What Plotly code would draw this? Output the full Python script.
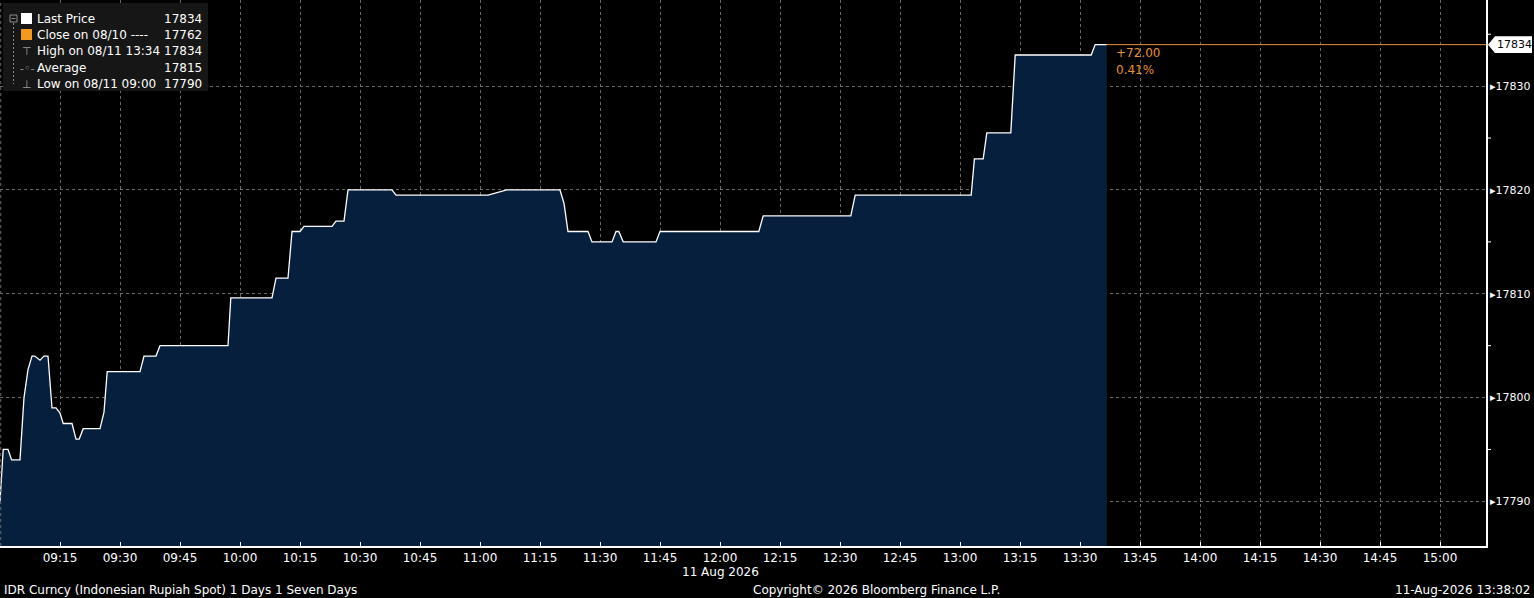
import plotly.graph_objects as go

day = "2026-08-11 "

times = [
    "09:00:00", "09:00:48", "09:02:00", "09:02:54", "09:05:00", "09:06:00",
    "09:07:00", "09:08:00", "09:08:42", "09:10:00", "09:11:00", "09:12:00",
    "09:13:00", "09:14:00", "09:15:00", "09:15:48", "09:18:00", "09:19:00",
    "09:19:48", "09:20:48", "09:25:00", "09:26:00", "09:26:48", "09:35:00",
    "09:36:00", "09:39:00", "09:40:00", "09:57:00", "09:57:42", "10:08:00",
    "10:09:00", "10:12:00", "10:13:00", "10:15:00", "10:16:00", "10:23:00",
    "10:24:00", "10:26:00", "10:27:00", "10:38:00", "10:39:00", "11:02:00",
    "11:06:42", "11:20:00", "11:21:00", "11:22:00", "11:27:00", "11:28:00",
    "11:33:00", "11:34:00", "11:34:42", "11:35:48", "11:44:00", "11:45:00",
    "12:09:42", "12:10:48", "12:32:42", "12:33:48", "13:02:48", "13:03:36",
    "13:05:48", "13:06:42", "13:12:42", "13:13:48", "13:32:48", "13:33:48",
    "13:36:42",
]
prices = [
    17790, 17795, 17795, 17794, 17794, 17800,
    17802.7, 17804, 17804, 17803.6, 17804, 17804,
    17799, 17799, 17798.5, 17797.5, 17797.5, 17796,
    17796, 17797, 17797, 17798.6, 17802.5, 17802.5,
    17804, 17804, 17805, 17805, 17809.6, 17809.6,
    17811.5, 17811.5, 17816, 17816, 17816.5, 17816.5,
    17817, 17817, 17820, 17820, 17819.5, 17819.5,
    17820, 17820, 17818.7, 17816, 17816, 17815,
    17815, 17816, 17816, 17815, 17815, 17816,
    17816, 17817.5, 17817.5, 17819.5, 17819.5, 17823,
    17823, 17825.5, 17825.5, 17833, 17833, 17834,
    17834,
]

x_ticks = ["09:15", "09:30", "09:45", "10:00", "10:15", "10:30", "10:45",
           "11:00", "11:15", "11:30", "11:45", "12:00", "12:15", "12:30",
           "12:45", "13:00", "13:15", "13:30", "13:45", "14:00", "14:15",
           "14:30", "14:45", "15:00"]
y_ticks = [17790, 17800, 17810, 17820, 17830]
y_minor = [17795, 17805, 17815, 17825, 17835]

last_price = 17834
prev_close = 17762
legend_rows = [
    ("Last Price", "17834"),
    ("Close on 08/10 ----", "17762"),
    ("High on 08/11 13:34", "17834"),
    ("Average", "17815"),
    ("Low on 08/11 09:00", "17790"),
]

W, H = 1534, 598
ML, MR, MT, MB = 0, 48, 0, 52
PW, PH = W - ML - MR, H - MT - MB
FONT = "DejaVu Sans"
FS = 12
ORANGE = "#e8912d"


def px(x):
    return x / PW


def py(y):
    return 1 - y / PH


def label(x, y, text, anchor="center", color="#ffffff", size=FS):
    return dict(xref="paper", yref="paper", x=px(x), y=py(y), text=text,
                showarrow=False, xanchor=anchor, yanchor="middle",
                font=dict(color=color, size=size, family=FONT))


xs = [day + t for t in times]
x_end = day + "15:11:30"

fig = go.Figure()
fig.add_trace(go.Scatter(
    x=xs, y=prices, mode="lines", fill="tozeroy",
    line=dict(color="#ffffff", width=1.3),
    fillcolor="#061f3d", hoverinfo="x+y", showlegend=False,
))

shapes = []
annotations = []

# orange last-price line
shapes.append(dict(type="line", xref="x", yref="y", x0=xs[-1], x1=x_end,
                   y0=last_price, y1=last_price,
                   line=dict(color=ORANGE, width=1)))
# left edge dashed grid at 09:00
shapes.append(dict(type="line", xref="paper", yref="paper", x0=0.0005, x1=0.0005,
                   y0=0, y1=1, line=dict(color="#6a6a6a", width=1, dash="3px,3px")))
# minor ticks on right axis
for v in y_minor:
    shapes.append(dict(type="line", xref="paper", yref="y", x0=1, x1=1 + px(5),
                       y0=v, y1=v, line=dict(color="#ffffff", width=1)))

# last price tag
shapes.append(dict(type="path", xref="paper", yref="y",
                   path=f"M {1 + px(2)} {last_price} L {1 + px(9)} {last_price + 0.8} "
                        f"L {1 + px(46)} {last_price + 0.8} L {1 + px(46)} {last_price - 0.8} "
                        f"L {1 + px(9)} {last_price - 0.8} Z",
                   fillcolor="#ffffff", line=dict(width=0)))
annotations.append(dict(xref="paper", yref="y", x=1 + px(9), y=last_price,
                        text=str(last_price), showarrow=False, xanchor="left",
                        yanchor="middle",
                        font=dict(color="#000000", size=11, family=FONT)))

# change annotations
annotations.append(dict(xref="x", yref="y", x=day + "13:38:30", y=last_price,
                        yshift=-8, text=f"+{last_price - prev_close:.2f}",
                        showarrow=False, xanchor="left", yanchor="middle",
                        font=dict(color=ORANGE, size=FS, family=FONT)))
annotations.append(dict(xref="x", yref="y", x=day + "13:38:30", y=last_price,
                        yshift=-25,
                        text=f"{(last_price - prev_close) / prev_close * 100:.2f}%",
                        showarrow=False, xanchor="left", yanchor="middle",
                        font=dict(color=ORANGE, size=FS, family=FONT)))

# legend box
shapes.append(dict(type="rect", xref="paper", yref="paper",
                   x0=px(3), x1=px(208), y0=py(3), y1=py(91),
                   fillcolor="#161616", line=dict(width=0)))
row_y = [19, 35, 51, 68, 84]
for i, (lab, val) in enumerate(legend_rows):
    annotations.append(label(35, row_y[i], lab, "left"))
    annotations.append(label(204, row_y[i], val, "right"))
# legend symbols
shapes.append(dict(type="rect", xref="paper", yref="paper", x0=px(21), x1=px(32),
                   y0=py(13), y1=py(24), fillcolor="#ffffff", line=dict(width=0)))
shapes.append(dict(type="rect", xref="paper", yref="paper", x0=px(21), x1=px(32),
                   y0=py(29), y1=py(40), fillcolor="#f39a1e", line=dict(width=0)))
shapes.append(dict(type="rect", xref="paper", yref="paper", x0=px(10), x1=px(17),
                   y0=py(15), y1=py(22), fillcolor="rgba(0,0,0,0)",
                   line=dict(color="#8a8a8a", width=1)))
shapes.append(dict(type="line", xref="paper", yref="paper", x0=px(11.5), x1=px(15.5),
                   y0=py(18.5), y1=py(18.5), line=dict(color="#8a8a8a", width=1)))
shapes.append(dict(type="line", xref="paper", yref="paper", x0=px(13.5), x1=px(13.5),
                   y0=py(23), y1=py(84), line=dict(color="#8a8a8a", width=1, dash="2px,2px")))
for i, sym in enumerate(["", "", "⊤", "-◦-", "⊥"]):
    if sym:
        annotations.append(label(27, row_y[i], sym, "center", "#9a9a9a", 11))

# footer
annotations.append(label(720, 572, "11 Aug 2026"))
annotations.append(label(2, 590, "IDR Curncy (Indonesian Rupiah Spot) 1 Days 1 Seven Days", "left"))
annotations.append(label(877, 590, "Copyright© 2026 Bloomberg Finance L.P."))
annotations.append(label(1532, 590, "11-Aug-2026 13:38:02", "right"))

fig.update_layout(
    width=W, height=H,
    margin=dict(l=ML, r=MR, t=MT, b=MB, autoexpand=False),
    paper_bgcolor="#000000", plot_bgcolor="#000000",
    font=dict(family=FONT, color="#ffffff", size=FS),
    shapes=shapes, annotations=annotations,
    xaxis=dict(
        range=[xs[0], x_end], type="date",
        tickvals=[day + t for t in x_ticks], ticktext=x_ticks,
        showgrid=True, gridcolor="#6a6a6a", griddash="3px,3px", gridwidth=1,
        showline=True, linecolor="#ffffff", linewidth=1.5,
        ticks="inside", ticklen=4, tickcolor="#ffffff",
        tickfont=dict(size=FS, color="#ffffff"),
        zeroline=False, fixedrange=True,
    ),
    yaxis=dict(
        range=[17785.7, 17838.3], side="right",
        tickvals=y_ticks, ticktext=["▸" + str(v) for v in y_ticks],
        showgrid=True, gridcolor="#6a6a6a", griddash="3px,3px", gridwidth=1,
        showline=True, linecolor="#ffffff", linewidth=1.5,
        ticks="", ticklabelstandoff=0,
        tickfont=dict(size=11, color="#ffffff"),
        zeroline=False, fixedrange=True,
    ),
)

fig.write_html(
    "out.html",
    config={"displayModeBar": False},
    post_script="document.body.style.margin='0';"
                "document.body.style.background='#000';",
)
